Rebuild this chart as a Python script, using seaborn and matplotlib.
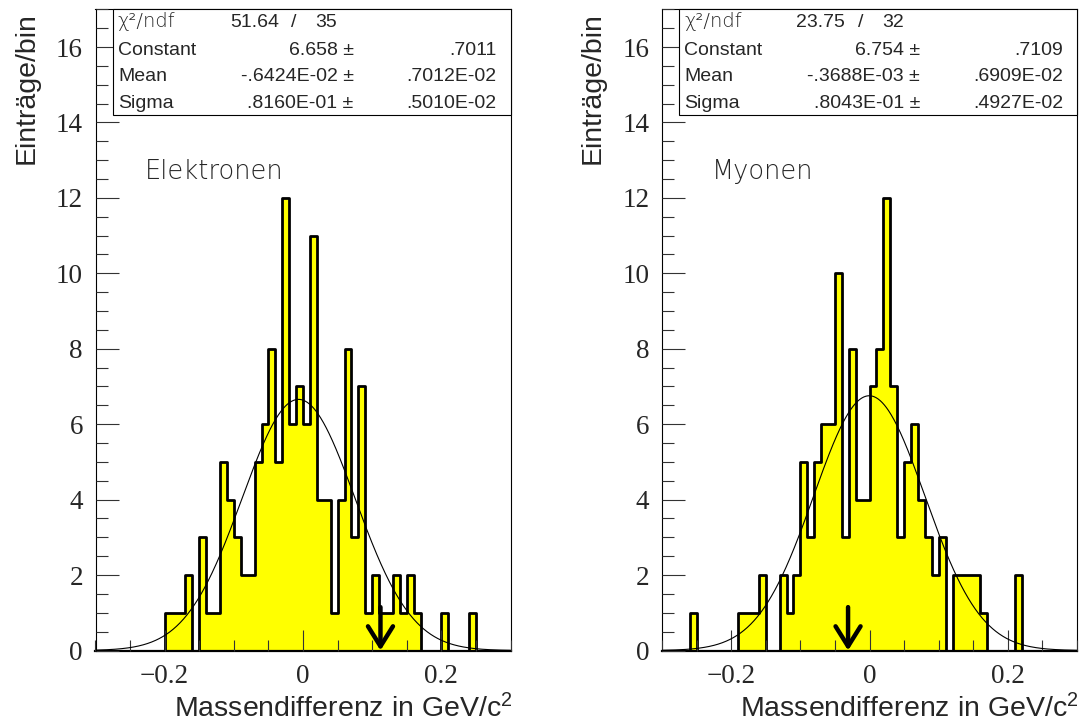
import numpy as np
import pandas as pd
import matplotlib
matplotlib.use("Agg")
import matplotlib.pyplot as plt
from matplotlib.patches import Rectangle
from matplotlib.ticker import MultipleLocator
import seaborn as sns

# Histogram range and binning (GeV/c^2)
x_min, x_max, n_bins = -0.3, 0.3, 60

# Entries per bin, 60 bins from -0.3 to 0.3
counts_elektronen = [0, 0, 0, 0, 0, 0, 0, 0, 0, 0,
                     1, 1, 1, 2, 0, 3, 1, 1, 5, 4,
                     3, 2, 2, 5, 6, 8, 5, 12, 6, 7,
                     6, 11, 4, 4, 1, 4, 8, 3, 7, 1,
                     2, 1, 1, 2, 1, 2, 1, 0, 0, 0,
                     1, 0, 0, 0, 1, 0, 0, 0, 0, 0]
counts_myonen = [0, 0, 0, 0, 1, 0, 0, 0, 0, 0,
                 0, 1, 1, 1, 2, 0, 0, 2, 1, 2,
                 5, 3, 5, 6, 6, 10, 3, 8, 4, 4,
                 7, 8, 12, 7, 3, 5, 6, 4, 3, 2,
                 3, 0, 2, 2, 2, 2, 1, 0, 0, 0,
                 0, 2, 0, 0, 0, 0, 0, 0, 0, 0]

# Gaussian fit results
panel_names = ["Elektronen", "Myonen"]
chi2 = ["51.64", "23.75"]
ndf = ["35", "32"]
fit_constant = [6.658, 6.754]
fit_constant_txt = ["6.658", "6.754"]
fit_constant_err = [".7011", ".7109"]
fit_mean = [-0.6424e-02, -0.3688e-03]
fit_mean_txt = ["-.6424E-02", "-.3688E-03"]
fit_mean_err = [".7012E-02", ".6909E-02"]
fit_sigma = [0.8160e-01, 0.8043e-01]
fit_sigma_txt = [".8160E-01", ".8043E-01"]
fit_sigma_err = [".5010E-02", ".4927E-02"]

# Marked event positions (arrows)
arrow_x = [0.112, -0.031]
arrow_top = 1.15

x_ticks = [-0.2, 0.0, 0.2]
x_ticklabels = ["\u22120.2", "0", "0.2"]
y_ticks = [0, 2, 4, 6, 8, 10, 12, 14, 16]

sns.set_style("white")
plt.rcParams["font.family"] = ["Liberation Sans", "DejaVu Sans"]
plt.rcParams["mathtext.fontset"] = "custom"
plt.rcParams["mathtext.rm"] = "Liberation Sans"
plt.rcParams["mathtext.it"] = "Liberation Sans"
plt.rcParams["mathtext.default"] = "regular"

W, H = 1081, 728
fig = plt.figure(figsize=(W / 100, H / 100), dpi=100)
fig.patch.set_facecolor("white")

ax_w, ax_h = 415 / W, 641.2 / H
ax_bottom = (H - 650.5) / H
axes = [fig.add_axes([95.5 / W, ax_bottom, ax_w, ax_h]),
        fig.add_axes([662 / W, ax_bottom, ax_w, ax_h])]

edges = np.linspace(x_min, x_max, n_bins + 1)
centers = 0.5 * (edges[:-1] + edges[1:])
all_counts = [counts_elektronen, counts_myonen]

thin_font = dict(family=["DejaVu Sans"], fontweight=200)

for i, ax in enumerate(axes):
    ax.set_axisbelow(False)
    df = pd.DataFrame({"x": centers, "n": all_counts[i]})
    sns.histplot(data=df, x="x", weights="n", bins=list(edges), element="step",
                 fill=True, color="#ffff00", alpha=1, edgecolor="black",
                 linewidth=2.0, ax=ax, zorder=2)

    # Gaussian fit curve
    xs = np.linspace(x_min, x_max, 600)
    ys = fit_constant[i] * np.exp(-0.5 * ((xs - fit_mean[i]) / fit_sigma[i]) ** 2)
    ax.plot(xs, ys, color="black", lw=0.8, zorder=3)

    # Event marker arrow
    ax.annotate("", xy=(arrow_x[i], 0.0), xytext=(arrow_x[i], arrow_top),
                arrowprops=dict(arrowstyle="->,head_length=0.72,head_width=0.45",
                                lw=3.2, color="black", shrinkA=0, shrinkB=0,
                                mutation_scale=20),
                zorder=4)

    ax.set_xlim(x_min, x_max)
    ax.set_ylim(0, 17)
    ax.set_xticks(x_ticks)
    ax.set_xticklabels(x_ticklabels)
    ax.xaxis.set_minor_locator(MultipleLocator(0.05))
    ax.set_yticks(y_ticks)
    ax.yaxis.set_minor_locator(MultipleLocator(0.5))
    ax.tick_params(axis="both", which="both", direction="in", color="#333333",
                   width=0.8, top=False, right=False, bottom=True, left=True,
                   labelfontfamily="Liberation Serif", labelsize=19.5)
    ax.tick_params(axis="x", which="major", length=14.9, pad=10)
    ax.tick_params(axis="x", which="minor", length=7.7)
    ax.tick_params(axis="y", which="major", length=16.3, pad=9)
    ax.tick_params(axis="y", which="minor", length=8.4)

    for side in ["top", "right", "left"]:
        ax.spines[side].set_visible(True)
        ax.spines[side].set_linewidth(0.8)
        ax.spines[side].set_color("black")
    ax.spines["bottom"].set_linewidth(1.6)
    ax.spines["bottom"].set_color("black")

    ax.set_xlabel("Massendifferenz in GeV/c$^{2}$", fontsize=20.5,
                  ha="right", va="baseline")
    ax.xaxis.set_label_coords(1.005, (650.5 - 717) / 641.2)
    ax.set_ylabel("Einträge/bin", fontsize=20.5, ha="right", va="baseline")
    ax.yaxis.set_label_coords(-0.150, 0.995)

    ax.text(0.119, 0.735, panel_names[i], transform=ax.transAxes,
            fontsize=18.5, va="baseline", ha="left", **thin_font)

    # Fit statistics box
    box = Rectangle((0.042, 0.835), 0.958, 0.165, transform=ax.transAxes,
                    facecolor="white", edgecolor="black", lw=0.8, zorder=6,
                    clip_on=False)
    ax.add_patch(box)
    rows_y = [0.9724, 0.9287, 0.8882, 0.8461]
    st = dict(transform=ax.transAxes, fontsize=14, va="baseline", zorder=7)
    ax.text(0.054, rows_y[0], "\u03c7\u00b2/ndf", transform=ax.transAxes,
            fontsize=14, va="baseline", zorder=7, **thin_font)
    ax.text(0.324, rows_y[0], chi2[i], ha="left", **st)
    ax.text(0.478, rows_y[0], "/", ha="center", **st)
    ax.text(0.530, rows_y[0], ndf[i], ha="left", **st)
    labels = ["Constant", "Mean", "Sigma"]
    vals = [fit_constant_txt[i], fit_mean_txt[i], fit_sigma_txt[i]]
    errs = [fit_constant_err[i], fit_mean_err[i], fit_sigma_err[i]]
    for r in range(3):
        y = rows_y[r + 1]
        ax.text(0.054, y, labels[r], ha="left", **st)
        ax.text(0.622, y, vals[r] + " \u00b1", ha="right", **st)
        ax.text(0.966, y, errs[r], ha="right", **st)

fig.savefig("out.png", dpi=100)
